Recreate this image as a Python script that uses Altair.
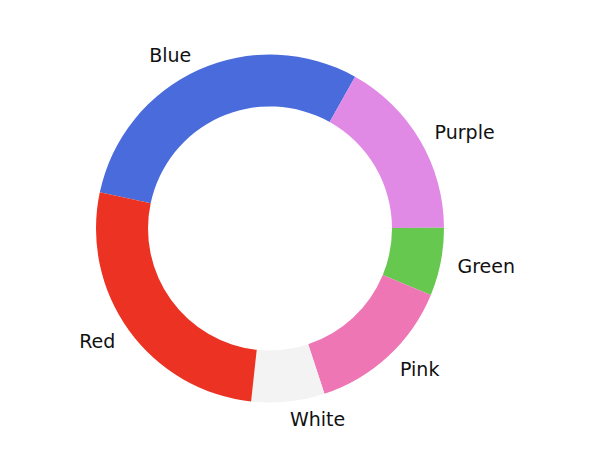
import math
import altair as alt
import pandas as pd

labels = ["Blue", "Purple", "Green", "Pink", "White", "Red"]
values = [29.8, 16.8, 6.3, 13.7, 6.8, 26.6]
colors = ["#4a6bdb", "#e08ae6", "#66c84f", "#ee76b5", "#f3f3f3", "#eb3223"]

df = pd.DataFrame({"label": labels, "value": values, "idx": list(range(len(labels)))})

start = math.radians(90 - 168)
rng = [start, start + 2 * math.pi]
theta_scale = alt.Scale(domain=[0, 100], range=rng)
color_scale = alt.Scale(domain=labels, range=colors)

base = alt.Chart(df)

arcs = base.mark_arc(radius=174, radius2=122, stroke=None).encode(
    theta=alt.Theta("value:Q", stack=True, scale=theta_scale),
    color=alt.Color("label:N", scale=color_scale, legend=None),
    order=alt.Order("idx:Q"),
)

lab = base.transform_window(
    cum="sum(value)", sort=[alt.SortField("idx")], frame=[None, 0]
).transform_calculate(
    mid="datum.cum - datum.value / 2"
).transform_calculate(
    ang=f"{start} + datum.mid / 100 * 2 * PI"
)

common = dict(radius=191, font="DejaVu Sans", fontSize=19, color="#111111",
              baseline="middle", dy=1.5)

right_labels = lab.transform_filter("sin(datum.ang) >= 0").mark_text(align="left", **common).encode(
    theta=alt.Theta("mid:Q", stack=None, scale=theta_scale),
    text="label:N",
)
left_labels = lab.transform_filter("sin(datum.ang) < 0").mark_text(align="right", **common).encode(
    theta=alt.Theta("mid:Q", stack=None, scale=theta_scale),
    text="label:N",
)

chart = alt.layer(arcs, right_labels, left_labels).properties(
    width=540, height=457, padding=0, autosize=alt.AutoSizeParams(type="none"),
    background="white",
).configure_view(stroke=None)

chart.save("out.html", embed_options={"renderer": "svg", "actions": False})
